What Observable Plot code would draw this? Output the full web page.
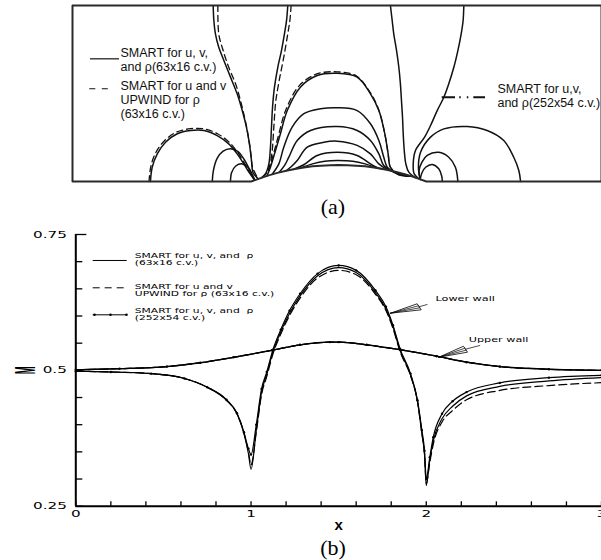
<!DOCTYPE html>
<html><head><meta charset="utf-8">
<script src="https://cdn.jsdelivr.net/npm/d3@7"></script>
<script src="https://cdn.jsdelivr.net/npm/@observablehq/plot@0.6"></script>
<style>
html,body{margin:0;padding:0;background:#fff;}
#fig{position:relative;width:601px;height:560px;overflow:hidden;background:#fff;}
#pa,#pb{position:absolute;left:0;width:601px;}
#pa{top:0;}
#pb{top:220px;}
#pa svg,#pb svg{display:block;overflow:visible;}
.cap{position:absolute;left:283px;width:100px;text-align:center;font-family:"Liberation Serif","Times New Roman",serif;font-size:22px;line-height:22px;color:#000;}
</style></head><body>
<div id="fig">
  <div id="pa"></div>
  <div class="cap" style="top:196px">(a)</div>
  <div id="pb"></div>
  <div class="cap" style="top:537px">(b)</div>
</div>
<script>
// ---------- Panel (a): channel with circular-arc bump, Mach contours ----------
const bumpX = [1.0,1.05,1.1,1.15,1.2,1.25,1.3,1.35,1.4,1.45,1.5,1.55,1.6,1.65,1.7,1.75,1.8,1.85,1.9,1.95,2.0];
const bumpY = [0,0.018,0.035,0.049,0.061,0.071,0.079,0.086,0.090,0.093,0.094,0.093,0.090,0.086,0.079,0.071,0.061,0.049,0.035,0.018,0];

const contourL1 = [[0.783,1.0],[0.787,0.915],[0.796,0.839],[0.815,0.763],[0.844,0.688],[0.882,0.593],[0.920,0.498],[0.949,0.403],[0.973,0.309],[0.990,0.214],[1.002,0.119],[1.011,0.05],[1.04,0.0147]];
const contourL2 = [[1.209,1.0],[1.202,0.915],[1.190,0.839],[1.173,0.744],[1.152,0.649],[1.133,0.536],[1.122,0.422],[1.116,0.309],[1.110,0.195],[1.101,0.10],[1.082,0.044],[1.06,0.0217]];
const contourR2 = [[1.795,1.0],[1.805,0.915],[1.814,0.839],[1.830,0.744],[1.843,0.649],[1.852,0.555],[1.858,0.46],[1.864,0.365],[1.868,0.271],[1.874,0.176],[1.883,0.10],[1.900,0.053],[1.94,0.021]];
const contourR1 = [[2.214,1.0],[2.210,0.915],[2.199,0.839],[2.180,0.744],[2.157,0.649],[2.128,0.555],[2.100,0.479],[2.062,0.403],[2.024,0.318],[1.990,0.252],[1.938,0.176],[1.925,0.10],[1.93,0.045],[1.955,0.017]];
const loopLBig = [[0.425,0.0],[0.435,0.081],[0.464,0.157],[0.511,0.223],[0.578,0.271],[0.654,0.29],[0.730,0.29],[0.806,0.261],[0.872,0.214],[0.920,0.157],[0.958,0.10],[0.987,0.053],[1.02,0.0075]];
const loopLMid = [[0.778,0.0],[0.784,0.06],[0.805,0.13],[0.84,0.172],[0.882,0.186],[0.925,0.17],[0.96,0.125],[0.99,0.07],[1.02,0.0075]];
const loopLSmall = [[0.882,0.0],[0.888,0.05],[0.912,0.088],[0.949,0.10],[0.983,0.08],[1.005,0.04],[1.02,0.0075]];
const loopRBig = [[1.965,0.012],[1.955,0.08],[1.967,0.166],[2.024,0.252],[2.10,0.299],[2.233,0.3125],[2.347,0.29],[2.442,0.233],[2.499,0.138],[2.528,0.0625],[2.538,0.0]];
const loopRMid = [[1.965,0.012],[1.958,0.06],[1.975,0.11],[2.005,0.148],[2.071,0.166],[2.128,0.138],[2.166,0.081],[2.18,0.0]];
const loopRSmall = [[1.965,0.012],[1.975,0.05],[1.996,0.081],[2.034,0.097],[2.071,0.072],[2.088,0.03],[2.091,0.0]];
const arcA = [[1.09,0.032],[1.11,0.081],[1.139,0.176],[1.167,0.271],[1.206,0.403],[1.281,0.536],[1.377,0.602],[1.491,0.615],[1.605,0.593],[1.681,0.498],[1.729,0.403],[1.763,0.271],[1.782,0.157],[1.795,0.081],[1.84,0.04],[1.91,0.03]];
const arcB = [[1.12,0.0415],[1.158,0.10],[1.186,0.195],[1.234,0.309],[1.301,0.385],[1.396,0.413],[1.491,0.419],[1.605,0.403],[1.681,0.328],[1.729,0.233],[1.757,0.138],[1.777,0.081],[1.82,0.05],[1.88,0.04]];
const arcC = [[1.16,0.053],[1.19,0.09],[1.215,0.138],[1.263,0.233],[1.339,0.29],[1.491,0.3125],[1.605,0.29],[1.681,0.233],[1.729,0.157],[1.757,0.091],[1.80,0.06],[1.84,0.05]];
const arcD = [[1.20,0.061],[1.23,0.085],[1.263,0.119],[1.32,0.195],[1.415,0.223],[1.491,0.229],[1.605,0.205],[1.681,0.157],[1.729,0.10],[1.77,0.072],[1.80,0.061]];
const arcE = [[1.24,0.069],[1.30,0.095],[1.377,0.148],[1.491,0.166],[1.605,0.148],[1.681,0.10],[1.73,0.075],[1.76,0.069]];
const arcF = [[1.28,0.076],[1.35,0.10],[1.42,0.115],[1.491,0.119],[1.58,0.115],[1.65,0.10],[1.72,0.076]];
// UPWIND-for-rho contours where they separate from the SMART ones
const contourL1Upwind = [[0.810,1.0],[0.815,0.839],[0.840,0.744],[0.872,0.649],[0.911,0.555],[0.939,0.46],[0.962,0.365],[0.981,0.271],[0.996,0.176],[1.008,0.081],[1.04,0.0147]];
const contourL2Upwind = [[1.228,1.0],[1.221,0.915],[1.209,0.839],[1.186,0.706],[1.160,0.574],[1.141,0.46],[1.133,0.365],[1.127,0.271],[1.120,0.176],[1.106,0.091],[1.085,0.045],[1.06,0.0217]];
const loopLBigUpwind = [[0.417,0.0],[0.427,0.085],[0.456,0.165],[0.505,0.232],[0.575,0.281],[0.654,0.30],[0.732,0.299],[0.81,0.27],[0.877,0.221],[0.925,0.162],[0.962,0.103],[0.99,0.055],[1.02,0.0075]];
const arcAUpwind = [[1.10,0.06],[1.13,0.165],[1.158,0.27],[1.197,0.405],[1.275,0.545],[1.375,0.611],[1.491,0.623],[1.60,0.60],[1.68,0.505],[1.729,0.405],[1.763,0.271],[1.782,0.157],[1.795,0.081],[1.84,0.04],[1.91,0.03]];

const legendLabelsA = ["SMART for u, v,\nand ρ(63x16 c.v.)", "SMART for u and v\nUPWIND for ρ\n(63x16 c.v.)", "SMART for u,v,\nand ρ(252x54 c.v.)"];

// ---------- Panel (b): wall Mach number ----------
const lowerX = [0,0.2,0.43,0.62,0.75,0.86,0.92,0.96,0.985,1.0,1.03,1.06,1.09,1.125,1.17,1.22,1.28,1.38,1.5,1.6,1.71,1.77,1.81,1.85,1.91,1.95,1.975,1.99,2.0,2.02,2.04,2.09,2.15,2.23,2.42,2.7,3.0];
const lowerSmart = [0.4985,0.497,0.494,0.485,0.469,0.445,0.420,0.383,0.347,0.318,0.390,0.460,0.493,0.534,0.571,0.605,0.637,0.674,0.689,0.680,0.643,0.613,0.580,0.537,0.492,0.443,0.383,0.345,0.288,0.335,0.370,0.411,0.434,0.453,0.4705,0.4805,0.4866];
const lowerUpwind = [0.4985,0.497,0.494,0.485,0.469,0.445,0.420,0.384,0.350,0.326,0.386,0.455,0.489,0.530,0.567,0.601,0.633,0.670,0.684,0.676,0.640,0.610,0.577,0.535,0.490,0.442,0.384,0.347,0.292,0.330,0.364,0.405,0.426,0.446,0.463,0.472,0.4773];
const lowerFine = [0.4985,0.497,0.494,0.485,0.469,0.446,0.421,0.386,0.356,0.345,0.400,0.466,0.497,0.538,0.575,0.610,0.641,0.678,0.693,0.684,0.647,0.617,0.583,0.540,0.494,0.445,0.390,0.352,0.300,0.340,0.377,0.420,0.443,0.460,0.477,0.4866,0.4908];
const upperX = [0,0.25,0.52,0.71,0.9,1.12,1.28,1.45,1.5,1.66,1.85,2.06,2.23,2.42,2.7,3.0];
const upperSmart = [0.501,0.503,0.507,0.514,0.524,0.537,0.547,0.552,0.552,0.547,0.538,0.526,0.515,0.507,0.502,0.500];
const upperUpwind = [0.501,0.503,0.507,0.514,0.524,0.537,0.547,0.552,0.552,0.547,0.538,0.526,0.515,0.507,0.502,0.500];
const upperFine = [0.501,0.503,0.507,0.514,0.524,0.537,0.547,0.552,0.552,0.547,0.538,0.526,0.515,0.507,0.502,0.500];

const yTicks = [0.25,0.30,0.35,0.40,0.45,0.50,0.55,0.60,0.65,0.70,0.75];
const yTickLabels = [0.25,0.5,0.75];
const xTicks = [0,0.2,0.4,0.6,0.8,1.0,1.2,1.4,1.6,1.8,2.0,2.2,2.4,2.6,2.8,3.0];
const xTickLabels = [0,1,2,3];
const legendLabelsB = ["SMART for u, v, and  ρ\n(63x16 c.v.)", "SMART for u and v\nUPWIND for ρ (63x16 c.v.)", "SMART for u, v, and  ρ\n(252x54 c.v.)"];
const wallLabels = ["Lower wall", "Upper wall"];

// ---------- build panel (a) ----------
const wall = [[-0.02,0],[1,0], ...bumpX.map((x,i)=>[x,bumpY[i]]), [2,0],[3,0]].map(([x,y])=>({x,y}));
const toRows = list => list.flatMap((pts,k) => pts.map(([x,y]) => ({k,x,y})));
const solidRows = toRows([contourL1,contourL2,contourR1,contourR2,loopLBig,loopLMid,loopLSmall,loopRBig,loopRMid,loopRSmall,arcA,arcB,arcC,arcD,arcE,arcF]);
const dashedRows = toRows([contourL1Upwind,contourL2Upwind,loopLBigUpwind,arcAUpwind]);
const fontA = "'Liberation Sans', Arial, sans-serif";
const wallStroke = "#2a2a2a";

const svgA = Plot.plot({
  width: 601, height: 186,
  marginTop: 5, marginBottom: 5, marginLeft: 72, marginRight: 0,
  x: {domain: [-0.02, 3], axis: null},
  y: {domain: [0, 1], axis: null},
  style: {background: "transparent", overflow: "visible"},
  marks: [
    Plot.line(dashedRows, {x: "x", y: "y", z: "k", curve: "catmull-rom", stroke: "#111", strokeWidth: 1.3, strokeDasharray: "6,4"}),
    Plot.line(solidRows, {x: "x", y: "y", z: "k", curve: "catmull-rom", stroke: "#111", strokeWidth: 1.5}),
    Plot.ruleY([1], {x1: -0.02, x2: 3, stroke: wallStroke, strokeWidth: 2}),
    Plot.ruleX([-0.02, 3], {y1: 0, y2: 1, stroke: wallStroke, strokeWidth: 2}),
    Plot.line(wall, {x: "x", y: "y", stroke: wallStroke, strokeWidth: 2}),
    // legend
    Plot.ruleY([0.697], {x1: 0.0828, x2: 0.2483, stroke: "#111", strokeWidth: 1.2}),
    Plot.ruleY([0.527], {x1: 0.0788, x2: 0.1873, stroke: "#111", strokeWidth: 1.2, strokeDasharray: "6,6.5"}),
    Plot.ruleY([0.479], {x1: 2.0906, x2: 2.3435, stroke: "#111", strokeWidth: 2, strokeDasharray: "13.3,4.2,1.5,6.1,1.5,5,11.7,10"}),
    Plot.text(legendLabelsA, {x: [0.254, 0.254, 2.406], y: [0.694, 0.465, 0.489], text: d => d, textAnchor: "start", lineAnchor: "middle", lineHeight: 1.14, fontSize: 12.5, fontFamily: fontA, fill: "#111"})
  ]
});
document.getElementById("pa").appendChild(svgA);

// ---------- build panel (b) ----------
const lowerRows = lowerX.map((x,i) => ({x, smart: lowerSmart[i], upwind: lowerUpwind[i], fine: lowerFine[i]}));
const upperRows = upperX.map((x,i) => ({x, smart: upperSmart[i], upwind: upperUpwind[i], fine: upperFine[i]}));
const wideFont = "'DejaVu Sans', widefont, sans-serif";
const ink = "#000";

const lowerArrow = [[1.796,0.6052],[1.948,0.6225],[1.971,0.6114],[1.796,0.6052]].map(([x,y])=>({x,y}));
const lowerFeather = [[[1.796,0.6052],[1.956,0.6188]],[[1.796,0.6052],[1.963,0.6151]],[[1.959,0.617],[2.005,0.6212]]].flatMap((s,k)=>s.map(([x,y])=>({k,x,y})));
const upperArrow = [[2.0716,0.5242],[2.2125,0.5444],[2.2353,0.5334],[2.0716,0.5242]].map(([x,y])=>({x,y}));
const upperFeather = [[[2.0716,0.5242],[2.2201,0.5407]],[[2.0716,0.5242],[2.2277,0.5371]],[[2.224,0.539],[2.3056,0.5457]]].flatMap((s,k)=>s.map(([x,y])=>({k,x,y})));

const svgB = Plot.plot({
  width: 601, height: 320,
  marginTop: 14, marginBottom: 34.3, marginLeft: 75.3, marginRight: 0,
  x: {domain: [0, 3], axis: null},
  y: {domain: [0.25, 0.75], axis: null},
  style: {background: "transparent", overflow: "visible"},
  marks: [
    // axes
    Plot.ruleY(yTicks.slice(0, -1), {y: d => d, x1: 0, x2: 0.04, stroke: ink, strokeWidth: 1.3}),
    Plot.ruleY([0.75], {x1: 0, x2: 0.063, stroke: ink, strokeWidth: 1.3}),
    Plot.ruleX(xTicks, {x: d => d, y1: 0.25, y2: 0.258, stroke: ink, strokeWidth: 1.3}),
    Plot.ruleX([0], {y1: 0.25, y2: 0.75, stroke: ink, strokeWidth: 2}),
    Plot.ruleY([0.25], {x1: 0, x2: 3, stroke: ink, strokeWidth: 2}),
    Plot.text(yTickLabels, {x: 0, y: d => d, text: d => String(d), textAnchor: "end", dx: -9, fontSize: 9.5, fontFamily: wideFont, fill: ink}),
    Plot.text(xTickLabels, {x: d => d, y: 0.25, text: d => String(d), dy: 8, fontSize: 9.5, fontFamily: wideFont, fill: ink}),
    Plot.text(["x"], {x: 1.5, y: 0.25, dy: 18.5, fontSize: 15, fontWeight: "bold", fontFamily: "'Liberation Sans', Arial, sans-serif", fill: ink}),
    Plot.text(["M"], {x: 0, y: 0.5, dx: -51, rotate: -90, fontSize: 12, fontWeight: "bold", fontFamily: "'Liberation Sans', mfont, sans-serif", fill: ink}),
    // curves
    Plot.line(upperRows, {x: "x", y: "upwind", curve: "monotone-x", stroke: ink, strokeWidth: 1.2, strokeDasharray: "8,4"}),
    Plot.line(upperRows, {x: "x", y: "smart", curve: "monotone-x", stroke: ink, strokeWidth: 1.3}),
    Plot.line(upperRows, {x: "x", y: "fine", curve: "monotone-x", stroke: ink, strokeWidth: 1.2}),
    Plot.dot(upperRows, {x: "x", y: "fine", r: 1.2, fill: ink}),
    Plot.line(lowerRows, {x: "x", y: "upwind", curve: "monotone-x", stroke: ink, strokeWidth: 1.2, strokeDasharray: "8,4"}),
    Plot.line(lowerRows, {x: "x", y: "smart", curve: "monotone-x", stroke: ink, strokeWidth: 1.2}),
    Plot.line(lowerRows, {x: "x", y: "fine", curve: "monotone-x", stroke: ink, strokeWidth: 1.2}),
    Plot.dot(lowerRows, {x: "x", y: "fine", r: 1.2, fill: ink}),
    // legend
    Plot.ruleY([0.7022], {x1: 0.0993, x2: 0.2933, stroke: ink, strokeWidth: 1}),
    Plot.ruleY([0.6519], {x1: 0.0993, x2: 0.2933, stroke: ink, strokeWidth: 1, strokeDasharray: "7,5"}),
    Plot.ruleY([0.6022], {x1: 0.0993, x2: 0.2933, stroke: ink, strokeWidth: 1}),
    Plot.dot([0.1067, 0.198, 0.2893], {x: d => d, y: 0.6022, r: 1.3, fill: ink}),
    Plot.text(legendLabelsB, {x: 0.3367, y: [0.704, 0.6466, 0.6025], text: d => d, textAnchor: "start", lineAnchor: "middle", lineHeight: 1.0, fontSize: 6.7, fontFamily: wideFont, fill: ink}),
    // wall annotations
    Plot.line(lowerArrow, {x: "x", y: "y", stroke: ink, strokeWidth: 0.8}),
    Plot.line(lowerFeather, {x: "x", y: "y", z: "k", stroke: ink, strokeWidth: 0.7}),
    Plot.line(upperArrow, {x: "x", y: "y", stroke: ink, strokeWidth: 0.8}),
    Plot.line(upperFeather, {x: "x", y: "y", z: "k", stroke: ink, strokeWidth: 0.7}),
    Plot.text(wallLabels, {x: [2.053, 2.2428], y: [0.6317, 0.5568], text: d => d, textAnchor: "start", fontSize: 7, fontFamily: wideFont, fill: ink})
  ]
});
document.getElementById("pb").appendChild(svgB);

// Stretch the Hershey-like stroke-font texts about their anchor, without touching the text's own attributes.
function stretch(svg, marker, sx, sy) {
  const NS = "http://www.w3.org/2000/svg";
  svg.querySelectorAll(`g[font-family*="${marker}"] text`).forEach(t => {
    const parent = t.parentNode;
    const anchor = t.getAttribute("text-anchor") || parent.getAttribute("text-anchor") || "middle";
    const r = t.getBoundingClientRect();
    const ax = anchor === "end" ? r.right : anchor === "start" ? r.left : (r.left + r.right) / 2;
    const ay = (r.top + r.bottom) / 2;
    const ctm = parent.getScreenCTM();
    if (!ctm) return;
    const p = svg.createSVGPoint(); p.x = ax; p.y = ay;
    const q = p.matrixTransform(ctm.inverse());
    const g = document.createElementNS(NS, "g");
    g.setAttribute("transform", `translate(${q.x},${q.y}) scale(${sx},${sy}) translate(${-q.x},${-q.y})`);
    parent.insertBefore(g, t);
    g.appendChild(t);
  });
}
stretch(svgB, "widefont", 1.6, 1);
stretch(svgB, "mfont", 2.5, 0.8);
</script>
</body></html>
